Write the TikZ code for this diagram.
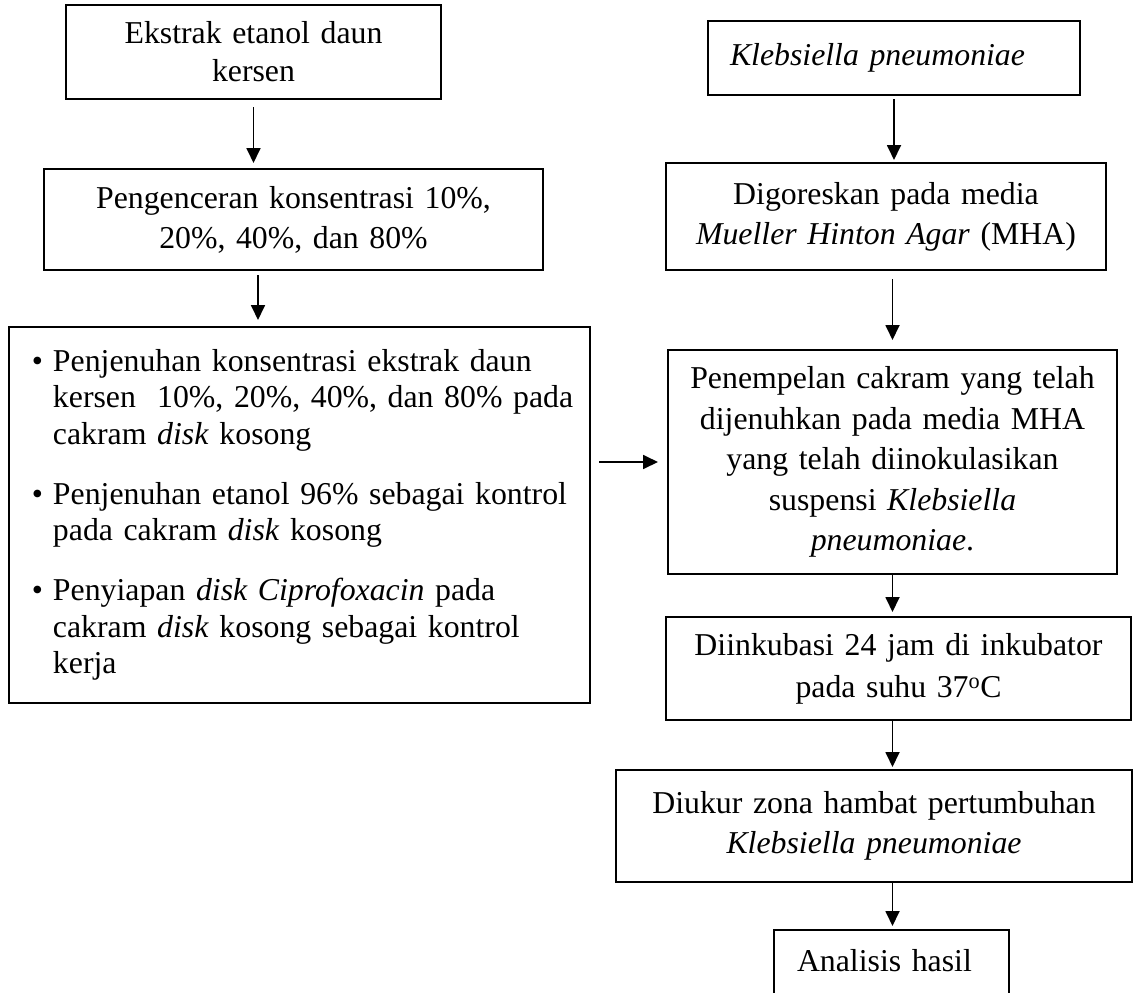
\documentclass[tikz,border=0pt]{standalone}
\usepackage{fontspec}
\setmainfont{Liberation Serif}
\usetikzlibrary{positioning, arrows.meta}
\newcommand{\itm}{\leavevmode\llap{\textbullet\hspace{10pt}}}

\begin{document}
\begin{tikzpicture}[
    x=1pt, y=1pt,
    box/.style={draw, rectangle, line width=1.8pt, inner sep=0pt, outer sep=0pt, align=center, font=\fontsize{31.8pt}{40pt}\selectfont},
    arrow/.style={-{Triangle[length=15pt, width=14pt]}, line width=1.8pt, shorten >=1pt, shorten <=1pt}
]
\useasboundingbox (0,0) rectangle (1133,-993);
\clip (0,0) rectangle (1133,-993);

% Left track: extract preparation
\node[box, text width=375pt, minimum height=94pt, font=\fontsize{31.8pt}{38pt}\selectfont] (EKS) at (253.5,-52) {Ekstrak etanol daun\\kersen};
\node[box, text width=499pt, minimum height=101pt, below=70pt of EKS, xshift=40pt] (ENC) {Pengenceran konsentrasi 10\%,\\20\%, 40\%, dan 80\%};
\node[box, text width=581pt, minimum height=376pt, align=left, font=\fontsize{31.8pt}{36.5pt}\selectfont, below=57pt of ENC, xshift=6pt] (JEN) {\leftskip=44pt
  \itm Penjenuhan konsentrasi ekstrak daun\\kersen~~10\%, 20\%, 40\%, dan 80\% pada\\cakram \textit{disk} kosong\\[23.5pt]
  \itm Penjenuhan etanol 96\% sebagai kontrol\\pada cakram \textit{disk} kosong\\[23.5pt]
  \itm Penyiapan \textit{disk Ciprofoxacin} pada\\cakram \textit{disk} kosong sebagai kontrol\\kerja\par};

% Right track: bacteria and test
\node[box, text width=372pt, minimum height=74pt, align=left, right=267pt of EKS, yshift=-6pt] (KLB) {\leftskip=22pt \textit{Klebsiella pneumoniae}\par};
\node[box, text width=440pt, minimum height=107pt, below=68pt of KLB, xshift=-8pt] (GOR) {Digoreskan pada media\\\textit{Mueller Hinton Agar} (MHA)};
\node[box, text width=449pt, minimum height=224pt, font=\fontsize{31.8pt}{40.5pt}\selectfont, below=80pt of GOR, xshift=6.5pt] (TEM) {Penempelan cakram yang telah\\dijenuhkan pada media MHA\\yang telah diinokulasikan\\suspensi \textit{Klebsiella}\\\textit{pneumoniae}.};
\node[box, text width=465pt, minimum height=103pt, font=\fontsize{31.8pt}{42pt}\selectfont, below=43pt of TEM, xshift=6pt] (INK) {Diinkubasi 24 jam di inkubator\\pada suhu 37\textsuperscript{o}C};
\node[box, text width=516pt, minimum height=112pt, below=50pt of INK, xshift=-24.5pt] (UKR) {Diukur zona hambat pertumbuhan\\\textit{Klebsiella pneumoniae}};
\node[box, text width=235pt, align=left, text height=22pt, text depth=50pt, inner ysep=19pt, below=48pt of UKR, xshift=17.5pt] (HSL) {\leftskip=23pt Analisis hasil\par};

% Edges
\draw[arrow, shorten <=8pt, shorten >=6pt] (EKS.south) -- (EKS.south |- ENC.north);
\coordinate (a2) at ([xshift=-35.5pt]ENC.south);
\draw[arrow, shorten <=5pt, shorten >=7pt] (a2) -- (a2 |- JEN.north);
\draw[arrow, shorten <=9pt, shorten >=10pt] (JEN.east |- TEM.west) -- (TEM.west);

\draw[arrow, shorten <=4pt, shorten >=3pt] (KLB.south) -- (KLB.south |- GOR.north);
\draw[arrow, shorten <=9pt, shorten >=10pt] (TEM.north |- GOR.south) -- (TEM.north);
\draw[arrow, shorten <=0pt, shorten >=5pt] (TEM.south) -- (TEM.south |- INK.north);
\draw[arrow, shorten <=0pt, shorten >=3pt] (TEM.south |- INK.south) -- (TEM.south |- UKR.north);
\draw[arrow, shorten <=0pt, shorten >=4pt] (TEM.south |- UKR.south) -- (TEM.south |- HSL.north);

\end{tikzpicture}
\end{document}
